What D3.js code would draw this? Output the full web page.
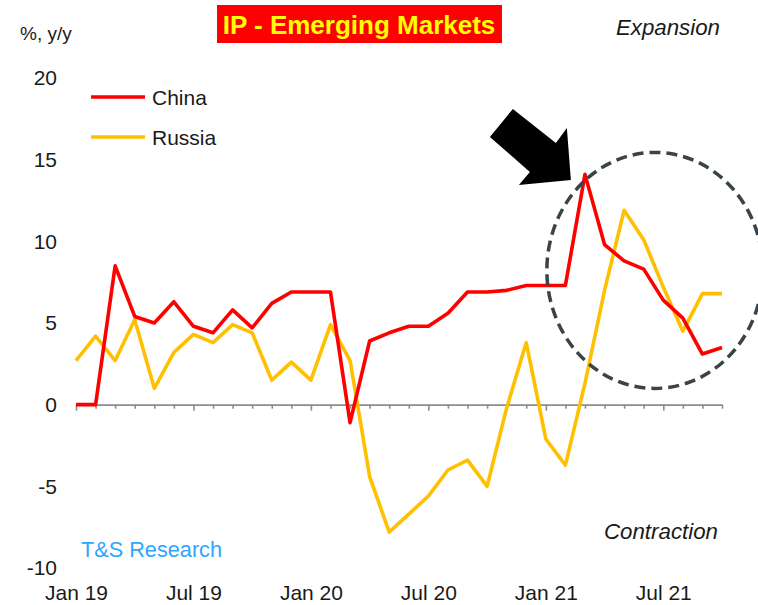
<!DOCTYPE html>
<html>
<head>
<meta charset="utf-8">
<script src="https://cdn.jsdelivr.net/npm/d3@7"></script>
<style>
  body { margin: 0; background: #fff; }
  svg { font-family: "Liberation Sans", Arial, sans-serif; }
</style>
</head>
<body>
<svg id="chart"></svg>
<script>
// monthly data, Jan 19 .. Oct 21
const months = d3.timeMonth.range(new Date(2019, 0, 1), new Date(2021, 10, 1))
const china = [0, 0, 8.5, 5.4, 5.0, 6.3, 4.8, 4.4, 5.8, 4.7, 6.2, 6.9,
  6.9, 6.9, -1.1, 3.9, 4.4, 4.8, 4.8, 5.6, 6.9, 6.9, 7.0, 7.3,
  7.3, 7.3, 14.1, 9.8, 8.8, 8.3, 6.4, 5.3, 3.1, 3.5]
const russia = [2.7, 4.2, 2.7, 5.2, 1.0, 3.2, 4.3, 3.8, 4.9, 4.4, 1.5, 2.6,
  1.5, 4.9, 2.7, -4.4, -7.8, -6.7, -5.6, -4.0, -3.4, -5.0, -0.2, 3.8,
  -2.1, -3.7, 1.3, 7.0, 11.9, 10.1, 7.2, 4.5, 6.8, 6.8]
const yTicks = [20, 15, 10, 5, 0, -5, -10]
const xTickLabels = ["Jan 19", "Jul 19", "Jan 20", "Jul 20", "Jan 21", "Jul 21"]
const series = [
  { name: "China", values: china, color: "#ff0000" },
  { name: "Russia", values: russia, color: "#ffc000" }
]

const width = 758, height = 605
const margin = { left: 76, right: 36, top: 78, bottom: 37 }
const textColor = "#1a1a1a"

const svg = d3.select("#chart")
  .attr("width", width)
  .attr("height", height)
  .attr("viewBox", [0, 0, width, height])

const x = d3.scaleLinear()
  .domain([0, months.length - 1])
  .range([margin.left, width - margin.right])

const y = d3.scaleLinear()
  .domain([-10, 20])
  .range([height - margin.bottom, margin.top])

const fmt = d3.timeFormat("%b %y")

// y labels only (plain hyphen for negatives)
svg.append("g")
  .attr("transform", "translate(57,0)")
  .call(d3.axisLeft(y).tickValues(yTicks).tickSize(0).tickPadding(0).tickFormat(d => String(d)))
  .call(g => g.select(".domain").remove())
  .call(g => g.selectAll("text").attr("font-size", "21px").attr("fill", textColor).attr("font-family", null))

// zero line with monthly ticks
const idx = d3.range(months.length)
svg.append("g")
  .attr("transform", `translate(0,${y(0)})`)
  .call(d3.axisBottom(x).tickValues(idx).tickSize(4).tickSizeOuter(0).tickFormat(""))
  .call(g => g.select(".domain").attr("stroke", "#8c8c8c").attr("stroke-width", 1.6))
  .call(g => g.selectAll(".tick line").attr("stroke", "#8c8c8c").attr("stroke-width", 1.6)
    .attr("y2", d => months[d].getMonth() % 6 == 0 ? 6 : 4))

// date labels at the bottom
const labelIdx = idx.filter(i => xTickLabels.includes(fmt(months[i])))
svg.append("g")
  .attr("transform", `translate(0,${height - 23})`)
  .call(d3.axisBottom(x).tickValues(labelIdx).tickSize(0).tickPadding(3).tickFormat(i => fmt(months[i])))
  .call(g => g.select(".domain").remove())
  .call(g => g.selectAll("text").attr("font-size", "21px").attr("fill", textColor).attr("font-family", null))

// lines
const line = d3.line()
  .x((d, i) => x(i))
  .y(d => y(d))

svg.append("g")
  .selectAll("path")
  .data(series.slice().reverse())
  .join("path")
  .attr("d", d => line(d.values))
  .attr("fill", "none")
  .attr("stroke", d => d.color)
  .attr("stroke-width", 3.6)
  .attr("stroke-linejoin", "round")

// legend
const legend = svg.append("g")
  .selectAll("g")
  .data(series)
  .join("g")
  .attr("transform", (d, i) => `translate(91,${97 + i * 40})`)
legend.append("line")
  .attr("x1", 0).attr("x2", 54)
  .attr("stroke", d => d.color)
  .attr("stroke-width", 3.6)
legend.append("text")
  .attr("x", 61).attr("y", 8)
  .attr("font-size", "21px")
  .attr("fill", textColor)
  .text(d => d.name)

// title
svg.append("rect")
  .attr("x", 217).attr("y", 5)
  .attr("width", 285).attr("height", 38)
  .attr("fill", "#ff0000")
svg.append("text")
  .attr("x", 359).attr("y", 34)
  .attr("text-anchor", "middle")
  .attr("font-size", "26px")
  .attr("font-weight", "bold")
  .attr("fill", "#ffff00")
  .text("IP - Emerging Markets")

svg.append("text")
  .attr("x", 20).attr("y", 40)
  .attr("font-size", "19px")
  .attr("fill", textColor)
  .text("%, y/y")

svg.append("text")
  .attr("x", 720).attr("y", 35)
  .attr("text-anchor", "end")
  .attr("font-size", "22.3px")
  .attr("font-style", "italic")
  .attr("fill", textColor)
  .text("Expansion")

svg.append("text")
  .attr("x", 718).attr("y", 539)
  .attr("text-anchor", "end")
  .attr("font-size", "22.3px")
  .attr("font-style", "italic")
  .attr("fill", textColor)
  .text("Contraction")

svg.append("text")
  .attr("x", 81).attr("y", 557)
  .attr("font-size", "21.7px")
  .attr("fill", "#2ea6ff")
  .text("T&S Research")

// dashed circle around the 2021 rebound
svg.append("ellipse")
  .attr("cx", x(29.57)).attr("cy", y(8.22))
  .attr("rx", 108).attr("ry", 118)
  .attr("fill", "none")
  .attr("stroke", "#3a4448")
  .attr("stroke-width", 3.5)
  .attr("stroke-dasharray", "11,6")

// block arrow pointing at the China peak
const tip = [x(25.28), y(13.76)]
const arrowShape = [[-58, -71], [-15, -37], [-4, -52], [0, 0], [-52, 5], [-41, -8], [-81, -43]]
svg.append("polygon")
  .attr("points", arrowShape.map(p => [tip[0] + p[0], tip[1] + p[1]].join(",")).join(" "))
  .attr("fill", "#000")
</script>
</body>
</html>
